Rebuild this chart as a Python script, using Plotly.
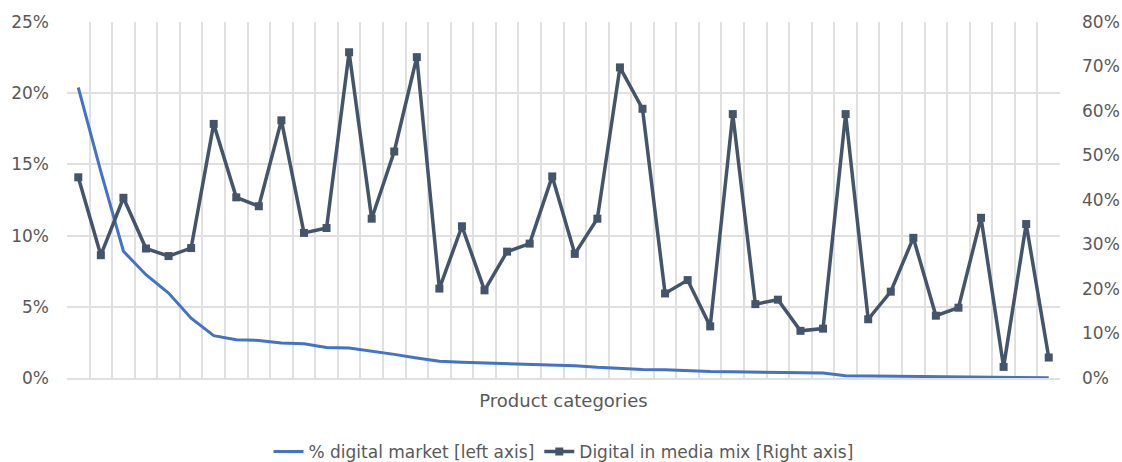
import plotly.graph_objects as go

# 44 product categories, ordered by share of the digital market
categories = list(range(1, 45))

# % digital market (left axis), in percent
digital_market = [
    20.4, 14.5, 8.9, 7.25, 5.97, 4.2, 2.97, 2.69, 2.64, 2.46, 2.41,
    2.15, 2.1, 1.9, 1.66, 1.4, 1.17, 1.1, 1.05, 1.0, 0.93, 0.89,
    0.86, 0.75, 0.65, 0.6, 0.58, 0.51, 0.46, 0.44, 0.42, 0.40, 0.39,
    0.35, 0.16, 0.15, 0.1, 0.09, 0.08, 0.06, 0.05, 0.04, 0.03, 0.02,
]

# Digital in media mix (right axis), in percent
media_mix = [
    45.1, 27.6, 40.5, 29.1, 27.4, 29.2, 57.1, 40.6, 38.6, 57.9, 32.6,
    33.7, 73.2, 35.8, 50.9, 72.1, 20.1, 34.1, 19.7, 28.4, 30.2, 45.3,
    27.9, 35.8, 69.8, 60.5, 19.0, 22.0, 11.6, 59.3, 16.6, 17.6, 10.6,
    11.1, 59.3, 13.2, 19.4, 31.5, 14.0, 15.8, 36.0, 2.5, 34.6, 4.6,
]

left_ticks = [0, 5, 10, 15, 20, 25]
right_ticks = [0, 10, 20, 30, 40, 50, 60, 70, 80]

FONT = "DejaVu Sans"
TEXT = "#595959"
GRID = "#E0E0E0"

fig = go.Figure()

fig.add_trace(go.Scatter(
    x=categories, y=digital_market,
    name="% digital market [left axis]",
    mode="lines",
    line=dict(color="#4472C4", width=3),
    yaxis="y",
))

fig.add_trace(go.Scatter(
    x=categories, y=media_mix,
    name="Digital in media mix [Right axis]",
    mode="lines+markers",
    line=dict(color="#44546A", width=3.5),
    marker=dict(symbol="square", size=8, color="#44546A"),
    yaxis="y2",
))

fig.update_layout(
    width=1122, height=462,
    margin=dict(l=67, r=62, t=22, b=84, autoexpand=False),
    paper_bgcolor="white", plot_bgcolor="white",
    font=dict(family=FONT, color=TEXT, size=17),
    showlegend=True,
    legend=dict(
        orientation="h",
        x=0.5, xanchor="center",
        yref="container", y=0.022, yanchor="middle",
        font=dict(size=17, color=TEXT),
        itemwidth=30,
    ),
    xaxis=dict(
        range=[0.5, 44.499],
        tick0=0.5, dtick=1,
        showticklabels=False, ticks="",
        showgrid=True, gridcolor=GRID, gridwidth=1.5,
        showline=True, linecolor=GRID, linewidth=1.5,
        zeroline=False, automargin=False,
        title=dict(text="Product categories", font=dict(size=18, color=TEXT), standoff=16),
    ),
    yaxis=dict(
        range=[0, 25],
        tickvals=left_ticks,
        ticktext=[f"{v}%" for v in left_ticks],
        tickfont=dict(size=17, color=TEXT),
        showgrid=True, gridcolor=GRID, gridwidth=1.5,
        zeroline=False, showline=False, ticks="",
        ticklabelstandoff=17, automargin=False,
    ),
    yaxis2=dict(
        range=[0, 80],
        overlaying="y", side="right",
        tickvals=right_ticks,
        ticktext=[f"{v}%" for v in right_ticks],
        tickfont=dict(size=17, color=TEXT),
        showgrid=False, zeroline=False, showline=False, ticks="",
        ticklabelstandoff=21, automargin=False,
    ),
)

fig.write_html("out.html")
